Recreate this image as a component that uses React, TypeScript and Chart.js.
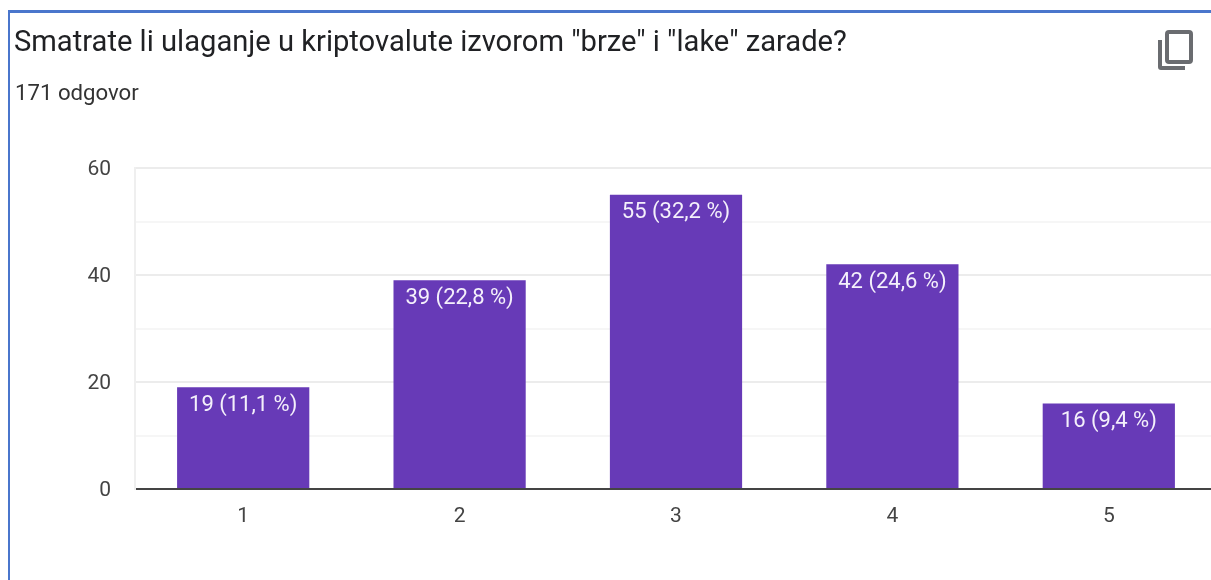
import React, { useEffect, useRef } from "react";
import { Chart, registerables } from "chart.js";

Chart.register(...registerables);

const categories = ["1", "2", "3", "4", "5"];
const counts = [19, 39, 55, 42, 16];
const shares = ["11,1", "22,8", "32,2", "24,6", "9,4"];
const titleText = 'Smatrate li ulaganje u kriptovalute izvorom "brze" i "lake" zarade?';
const subtitleText = "171 odgovor";
const FONT = "Roboto, 'Liberation Sans', Arial, sans-serif";

const barLabels = {
  id: "barLabels",
  afterDatasetsDraw(chart: any) {
    const { ctx } = chart;
    const meta = chart.getDatasetMeta(0);
    ctx.save();
    ctx.fillStyle = "#f4f0fb";
    ctx.font = `22px ${FONT}`;
    ctx.textAlign = "center";
    ctx.textBaseline = "middle";
    meta.data.forEach((bar: any, i: number) => {
      ctx.fillText(`${counts[i]} (${shares[i]} %)`, bar.x, bar.y + 18);
    });
    ctx.restore();
  },
};

export default function App() {
  const ref = useRef<HTMLCanvasElement>(null);
  useEffect(() => {
    const chart = new Chart(ref.current!, {
      type: "bar",
      data: {
        labels: categories,
        datasets: [
          {
            data: counts,
            backgroundColor: "#673ab7",
            borderWidth: 0,
            barPercentage: 0.611,
            categoryPercentage: 1,
          },
        ],
      },
      options: {
        animation: false,
        responsive: false,
        layout: { padding: { top: 168, left: 0, right: 0, bottom: 0 } },
        plugins: { legend: { display: false }, tooltip: { enabled: false } },
        scales: {
          x: {
            grid: { display: false, drawTicks: false },
            border: { color: "#444444", width: 2 },
            ticks: { color: "#444444", font: { family: FONT, size: 21 }, padding: 15, maxRotation: 0 },
            afterFit: (s: any) => { s.height = 91; },
          },
          y: {
            min: 0,
            max: 60,
            grid: {
              drawTicks: false,
              lineWidth: 2,
              color: (c: any) => (c.tick.value % 20 === 0 ? "#ececec" : "#f6f6f6"),
            },
            border: { color: "#efefef", width: 2 },
            ticks: {
              stepSize: 10,
              color: "#444444",
              font: { family: FONT, size: 21 },
              padding: 24,
              labelOffset: 2,
              callback: (v: any) => (Number(v) % 20 === 0 ? String(v) : ""),
            },
            afterFit: (s: any) => { s.width = 135; },
          },
        },
      },
      plugins: [barLabels],
    });
    return () => chart.destroy();
  }, []);

  return (
    <div style={{ position: "fixed", left: 0, top: 0, width: 1211, height: 580, overflow: "hidden", background: "#fff" }}>
      <canvas ref={ref} width={1217} height={580} style={{ position: "absolute", left: 0, top: 0, display: "block" }} />
      <div style={{ position: "absolute", left: 8, top: 10, width: 1300, height: 700, borderTop: "3px solid #4a76cc", borderLeft: "2px solid #4a76cc" }} />
      <div style={{ position: "absolute", left: 14, top: 24, font: `29.15px ${FONT}`, color: "#202124", whiteSpace: "nowrap" }}>{titleText}</div>
      <div style={{ position: "absolute", left: 15, top: 79, font: `22.2px ${FONT}`, color: "#333333", whiteSpace: "nowrap" }}>{subtitleText}</div>
      <svg style={{ position: "absolute", left: 1157, top: 29 }} width="36" height="42" viewBox="0 0 36 42" fill="none" stroke="#6a6c70" strokeWidth="4">
        <rect x="10" y="3" width="24" height="30" rx="2" />
        <path d="M3 11 V38 a1 1 0 0 0 1 1 H28" />
      </svg>
    </div>
  );
}
